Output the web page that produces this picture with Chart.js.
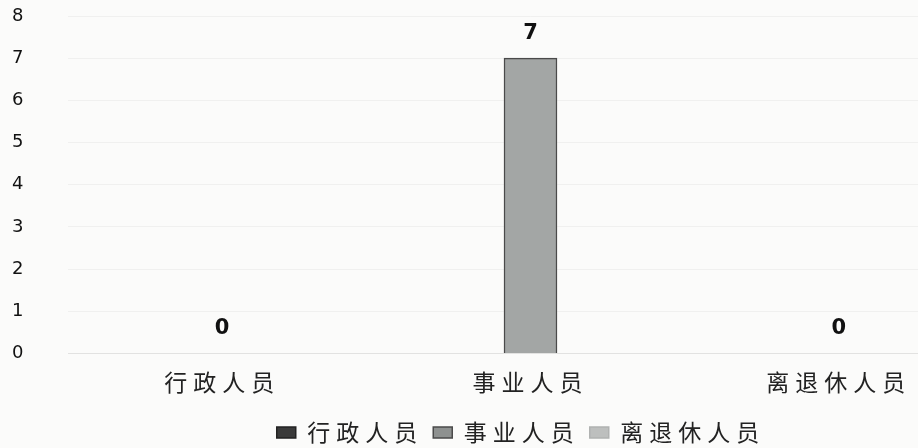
<!DOCTYPE html>
<html>
<head>
<meta charset="utf-8">
<script src="https://cdn.jsdelivr.net/npm/chart.js@4.4.1/dist/chart.umd.min.js"></script>
<style>
  html, body { margin:0; padding:0; background:#fbfbfa; overflow:hidden; }
  #wrap { width:1030px; height:454px; }
</style>
</head>
<body>
<div id="wrap"><canvas id="chart" width="1030" height="454"></canvas></div>
<script>
/* ── DATA ─────────────────────────────────────────────────── */
const categories = ['行政人员', '事业人员', '离退休人员'];
const counts     = [0, 7, 0];
const yTicks     = [0, 1, 2, 3, 4, 5, 6, 7, 8];

const fills   = ['#3a3a3a', '#8e9190', '#bdbfbe'];
const borders = ['#222222', '#4a4a4a', '#b0b2b1'];

const CJK  = '"Noto Sans CJK SC", "Noto Sans", sans-serif';
const NUM  = '"DejaVu Sans", Verdana, sans-serif';

// the scanned chart has wide-set characters
const spacing = {
  id: 'spacing',
  beforeLayout(chart) { chart.ctx.letterSpacing = '6px'; },
  beforeDraw(chart)   { chart.ctx.letterSpacing = '6px'; },
};

/* ── VALUE LABELS ─────────────────────────────────────────── */
const valueLabels = {
  id: 'valueLabels',
  afterDatasetsDraw(chart) {
    const ctx = chart.ctx;
    ctx.save();
    ctx.letterSpacing = '0px';
    ctx.font = 'bold 21px ' + NUM;
    ctx.fillStyle = '#111';
    ctx.textAlign = 'center';
    ctx.textBaseline = 'middle';
    chart.data.datasets.forEach((ds, i) => {
      chart.getDatasetMeta(i).data.forEach((bar, j) => {
        const v = ds.data[j];
        if (v === null || v === undefined) return;
        ctx.fillText(String(v), bar.x, bar.y - 25);
      });
    });
    ctx.restore();
  }
};

new Chart(document.getElementById('chart'), {
  type: 'bar',
  data: {
    labels: categories,
    datasets: categories.map((c, i) => ({
      label: c,
      data: counts.map((v, j) => (j === i ? v : null)),
      backgroundColor: i === 1 ? '#a3a6a5' : fills[i],
      borderColor: borders[i],
      borderWidth: 1.5,
      barThickness: 53,
    })),
  },
  options: {
    responsive: false,
    animation: false,
    skipNull: true,
    layout: { padding: { left: 12, top: 16, right: 0, bottom: 0 } },
    plugins: {
      legend: {
        position: 'bottom',
        labels: {
          font: { family: CJK, size: 23 },
          color: '#222',
          boxWidth: 19, boxHeight: 11,
          padding: 10,
          generateLabels: chart => chart.data.datasets.map((ds, i) => ({
            text: ds.label,
            fillStyle: fills[i],
            strokeStyle: borders[i],
            lineWidth: 1.5,
            fontColor: '#222',
            datasetIndex: i,
          })),
        },
      },
      tooltip: { enabled: false },
    },
    scales: {
      x: {
        grid: { display: false, drawTicks: false },
        border: { display: true, color: 'rgba(0,0,0,0.06)' },
        ticks: { font: { family: CJK, size: 23 }, color: '#222', padding: 15 },
      },
      y: {
        min: 0, max: 8,
        afterBuildTicks: s => { s.ticks = yTicks.map(v => ({ value: v })); },
        afterFit: s => { s.width = 56; },
        grid: { color: 'rgba(0,0,0,0.045)', drawTicks: false },
        border: { display: false },
        ticks: { font: { family: NUM, size: 18 }, color: '#111', crossAlign: 'far', padding: 0 },
      },
      y2: {
        position: 'right',
        afterFit: s => { s.width = 37; },
        grid: { display: false },
        border: { display: false },
        ticks: { display: false },
      },
    },
  },
  plugins: [spacing, valueLabels],
});
</script>
</body>
</html>
